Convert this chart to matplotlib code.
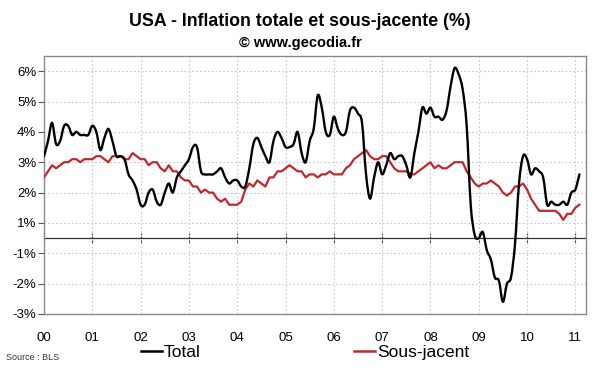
import numpy as np
import matplotlib
matplotlib.use('Agg')
import matplotlib.pyplot as plt
from matplotlib.lines import Line2D
from matplotlib.path import Path
from matplotlib.patches import PathPatch

plt.rcParams['font.family'] = ['Liberation Sans', 'DejaVu Sans']

# US CPI, year-on-year change (%), monthly Jan 2000 - Feb 2011
total = [
    2.7, 3.2, 3.8, 3.1, 3.2, 3.7, 3.7, 3.4, 3.5, 3.4, 3.4, 3.4,   # 2000
    3.7, 3.5, 2.9, 3.3, 3.6, 3.2, 2.7, 2.7, 2.6, 2.1, 1.9, 1.6,   # 2001
    1.1, 1.1, 1.5, 1.6, 1.2, 1.1, 1.5, 1.8, 1.5, 2.0, 2.2, 2.4,   # 2002
    2.6, 3.0, 3.0, 2.2, 2.1, 2.1, 2.1, 2.2, 2.3, 2.0, 1.8, 1.9,   # 2003
    1.9, 1.7, 1.7, 2.3, 3.1, 3.3, 3.0, 2.7, 2.5, 3.2, 3.5, 3.3,   # 2004
    3.0, 3.0, 3.1, 3.5, 2.8, 2.5, 3.2, 3.6, 4.7, 4.3, 3.5, 3.4,   # 2005
    4.0, 3.6, 3.4, 3.5, 4.2, 4.3, 4.1, 3.8, 2.1, 1.3, 2.0, 2.5,   # 2006
    2.1, 2.4, 2.8, 2.6, 2.7, 2.7, 2.4, 2.0, 2.8, 3.5, 4.3, 4.1,   # 2007
    4.3, 4.0, 4.0, 3.9, 4.2, 5.0, 5.6, 5.4, 4.9, 3.7, 1.1, 0.1,   # 2008
    0.0, 0.2, -0.4, -0.7, -1.3, -1.4, -2.1, -1.5, -1.3, -0.2, 1.8, 2.7,  # 2009
    2.6, 2.1, 2.3, 2.2, 2.0, 1.1, 1.2, 1.1, 1.1, 1.2, 1.1, 1.5,   # 2010
    1.6, 2.1,                                                     # 2011
]
core = [
    2.0, 2.2, 2.4, 2.3, 2.4, 2.5, 2.5, 2.6, 2.6, 2.5, 2.6, 2.6,
    2.6, 2.7, 2.7, 2.6, 2.5, 2.7, 2.7, 2.7, 2.6, 2.6, 2.8, 2.7,
    2.6, 2.6, 2.4, 2.5, 2.5, 2.3, 2.2, 2.4, 2.2, 2.2, 2.0, 1.9,
    1.9, 1.7, 1.7, 1.5, 1.6, 1.5, 1.5, 1.3, 1.2, 1.3, 1.1, 1.1,
    1.1, 1.2, 1.6, 1.8, 1.7, 1.9, 1.8, 1.7, 2.0, 2.0, 2.2, 2.2,
    2.3, 2.4, 2.3, 2.2, 2.2, 2.0, 2.1, 2.1, 2.0, 2.1, 2.1, 2.2,
    2.1, 2.1, 2.1, 2.3, 2.4, 2.6, 2.7, 2.8, 2.9, 2.7, 2.6, 2.6,
    2.7, 2.7, 2.5, 2.3, 2.2, 2.2, 2.2, 2.1, 2.1, 2.2, 2.3, 2.4,
    2.5, 2.3, 2.4, 2.3, 2.3, 2.4, 2.5, 2.5, 2.5, 2.2, 2.0, 1.8,
    1.7, 1.8, 1.8, 1.9, 1.8, 1.7, 1.5, 1.4, 1.5, 1.7, 1.7, 1.8,
    1.6, 1.3, 1.1, 0.9, 0.9, 0.9, 0.9, 0.9, 0.8, 0.6, 0.8, 0.8,
    1.0, 1.1,
]

year_labels = ['00', '01', '02', '03', '04', '05', '06', '07', '08', '09', '10', '11']
# the source chart puts its gridlines on half points, labels rounded
ytick_vals = [5.5, 4.5, 3.5, 2.5, 1.5, 0.5, -0.5, -1.5, -2.5]
ytick_labels = ['6%', '5%', '4%', '3%', '2%', '1%', '-1%', '-2%', '-3%']

YMIN, YMAX = -2.5, 6.0
XMAX = 11.22


def smooth_path(x, y):
    """Bezier path through every point (like Excel's 'smoothed line')."""
    pts = np.column_stack([x, y])
    n = len(pts)
    verts = [pts[0]]
    codes = [Path.MOVETO]
    for i in range(n - 1):
        p0 = pts[max(i - 1, 0)]
        p1 = pts[i]
        p2 = pts[i + 1]
        p3 = pts[min(i + 2, n - 1)]
        c1 = p1 + (p2 - p0) / 6.0
        c2 = p2 - (p3 - p1) / 6.0
        verts += [c1, c2, p2]
        codes += [Path.CURVE4] * 3
    return Path(verts, codes)


def main():
    x = np.arange(len(total)) / 12.0
    years = np.arange(len(year_labels))

    fig = plt.figure(figsize=(6, 3.72), dpi=100)
    ax = fig.add_axes([44 / 600, 1 - 314 / 372, 542 / 600, 258 / 372])

    ax.plot(x, core, color='#c0282d', lw=1.6, zorder=3)
    ax.add_patch(PathPatch(smooth_path(x, np.asarray(total)), fill=False,
                           edgecolor='black', lw=1.7, zorder=4,
                           capstyle='round', joinstyle='round'))

    ax.set_xlim(0, XMAX)
    ax.set_ylim(YMIN, YMAX)

    ax.set_yticks(ytick_vals)
    ax.set_yticklabels(ytick_labels)
    ax.set_xticks(years)
    ax.set_xticklabels(year_labels)
    ax.tick_params(axis='y', direction='out', length=4, width=0.8,
                   color='#555555', labelsize=9.5, pad=1.5)
    ax.tick_params(axis='x', length=0, labelsize=9.5, pad=13)

    ax.grid(True, color='#c8c8c8', linestyle=(0, (1.5, 2)), lw=0.8)
    ax.set_axisbelow(True)
    for sp in ax.spines.values():
        sp.set_color('#8a8a8a')
        sp.set_linewidth(1.0)

    # zero line carrying the year tick marks
    sec = ax.secondary_xaxis((0 - YMIN) / (YMAX - YMIN))
    sec.set_xticks(years)
    sec.set_xticklabels([''] * len(years))
    sec.tick_params(direction='inout', length=7, width=0.8, color='#444444')
    sec.spines['bottom'].set_color('#333333')
    sec.spines['bottom'].set_linewidth(0.9)

    fig.text(0.5, 1 - 21 / 372, 'USA - Inflation totale et sous-jacente (%)',
             ha='center', va='center', fontsize=12.8, fontweight='bold')
    fig.text(0.5, 1 - 43 / 372, '\u00a9 www.gecodia.fr',
             ha='center', va='center', fontsize=10.5, fontweight='bold')
    fig.text(6 / 600, 1 - 358 / 372, 'Source : BLS', ha='left', va='center',
             fontsize=6.5, color='#333333',
             family=['Liberation Sans Narrow', 'Liberation Sans'])

    handles = [Line2D([], [], color='black', lw=1.8),
               Line2D([], [], color='#c0282d', lw=1.8)]
    fig.legend(handles, ['Total', 'Sous-jacent'], ncol=2, frameon=False,
               loc='center left', bbox_to_anchor=(141 / 600, 1 - 352 / 372),
               fontsize=12.5, handlelength=1.2, handletextpad=0.12,
               columnspacing=8.85, borderpad=0, borderaxespad=0)

    fig.savefig('out.png', dpi=100)
    plt.close(fig)


if __name__ == '__main__':
    main()
